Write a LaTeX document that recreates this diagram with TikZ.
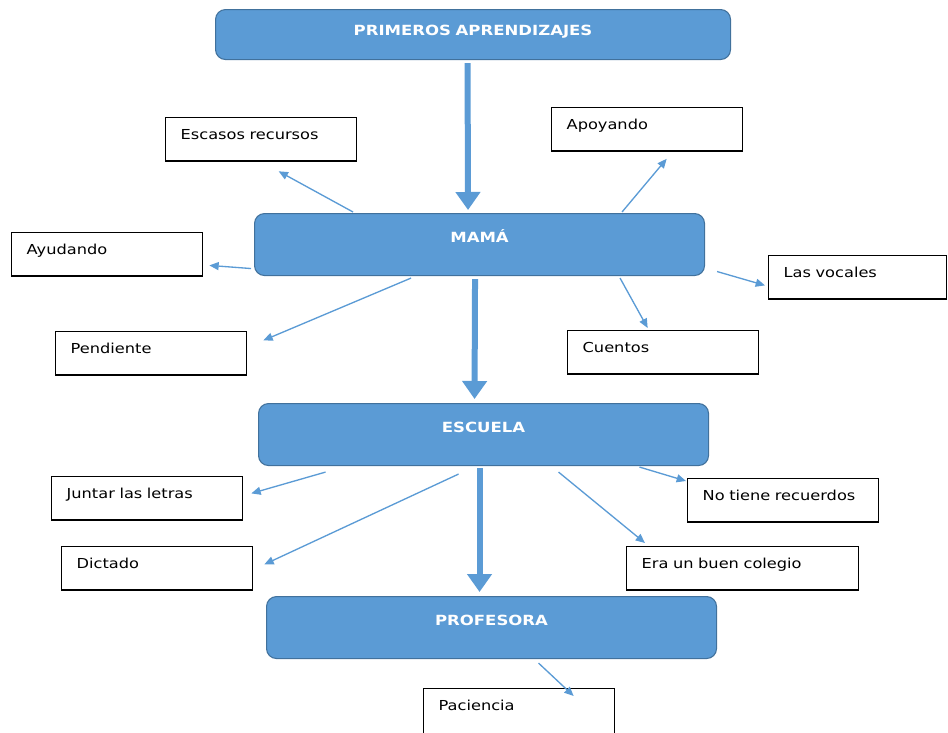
\documentclass[tikz,border=0pt]{standalone}
\usepackage{fontspec}
\usetikzlibrary{arrows.meta,calc}
\newfontfamily\mapfont[FakeStretch=1.18]{DejaVu Sans}
\definecolor{boxblue}{HTML}{5B9BD5}
\definecolor{boxedge}{HTML}{41719C}

\begin{document}
\begin{tikzpicture}[x=0.75pt, y=-0.75pt,
    topic/.style={draw=boxedge, line width=0.8pt, fill=boxblue, rounded corners=7.5pt,
      text=white, font=\mapfont\fontsize{10.5}{12}\selectfont\bfseries, align=center,
      inner sep=0pt, text width=337.5pt, text height=21.75pt, text depth=24.75pt,
      anchor=north west},
    leaf/.style={draw=black, line width=1pt, font=\mapfont\fontsize{10.3}{12}\selectfont,
      align=left, inner xsep=11.25pt, inner ysep=0pt, text width=120.75pt,
      text height=16.1pt, text depth=16.5pt, anchor=north west},
    link/.style={draw=boxblue, line width=1pt, -{Triangle[length=7pt,width=6pt]}},
    bigarrow/.style={draw=boxblue, line width=4.5pt, -{Triangle[length=13.5pt,width=18pt]}}]
    \useasboundingbox (0,0) rectangle (948,732);

    % main chain
    \node[topic, text width=386.25pt, text height=19.5pt, text depth=18pt] (top) at (215,9)
      {PRIMEROS APRENDIZAJES};
    \node[topic] (mama) at (254,213) {MAMÁ};
    \node[topic] (escuela) at (258,403) {ESCUELA};
    \node[topic] (profesora) at (266,596) {PROFESORA};

    % leaves
    \node[leaf] (escasos) at (165,117) {Escasos recursos};
    \node[leaf] (apoyando) at (551,107) {Apoyando};
    \node[leaf] (ayudando) at (11,232) {Ayudando};
    \node[leaf, text width=111pt] (vocales) at (768,255) {Las vocales};
    \node[leaf] (pendiente) at (55,331) {Pendiente};
    \node[leaf] (cuentos) at (567,330) {Cuentos};
    \node[leaf] (juntar) at (51,476) {Juntar las letras};
    \node[leaf] (dictado) at (61,546) {Dictado};
    \node[leaf] (norecuerdos) at (687,478) {No tiene recuerdos};
    \node[leaf, text width=151.5pt] (buencolegio) at (626,546) {Era un buen colegio};
    \node[leaf, text depth=18pt] (paciencia) at (423,688) {Paciencia};

    \draw[bigarrow] ($(top.south)+(-5.5,3)$) -- ($(mama.north)+(-11.5,-3)$);
    \draw[bigarrow] ($(mama.south)+(-4.5,3)$) -- ($(escuela.north)+(-9,-4)$);
    \draw[bigarrow] ($(escuela.south)+(-4,2)$) -- ($(profesora.north)+(-12,-4)$);

    \draw[link] ($(mama.north)+(-126.5,-1)$) -- ($(escasos.south)+(17.5,9.5)$);
    \draw[link] ($(mama.north)+(142.5,-1)$) -- ($(apoyando.south)+(19.5,7)$);
    \draw[link] ($(mama.west)+(-3,24)$) -- ($(ayudando.east)+(6,11)$);
    \draw[link] ($(mama.east)+(12,27)$) -- ($(vocales.west)+(-3,8)$);
    \draw[link] ($(mama.south)+(-68.5,2)$) -- ($(pendiente.east)+(16,-13)$);
    \draw[link] ($(mama.south)+(140.5,2)$) -- ($(cuentos.north)+(-15.5,-2)$);

    \draw[link] ($(escuela.south)+(-158,6)$) -- ($(juntar.east)+(8,-5)$);
    \draw[link] ($(escuela.south)+(-25,8)$) -- ($(dictado.east)+(11,-4)$);
    \draw[link] ($(escuela.south)+(156,1)$) -- ($(norecuerdos.north west)+(-1,3)$);
    \draw[link] ($(escuela.south)+(75,6)$) -- ($(buencolegio.north west)+(19,-3)$);

    \draw[link] ($(profesora.south)+(47,4)$) -- ($(paciencia.north)+(54.5,8)$);
\end{tikzpicture}
\end{document}
